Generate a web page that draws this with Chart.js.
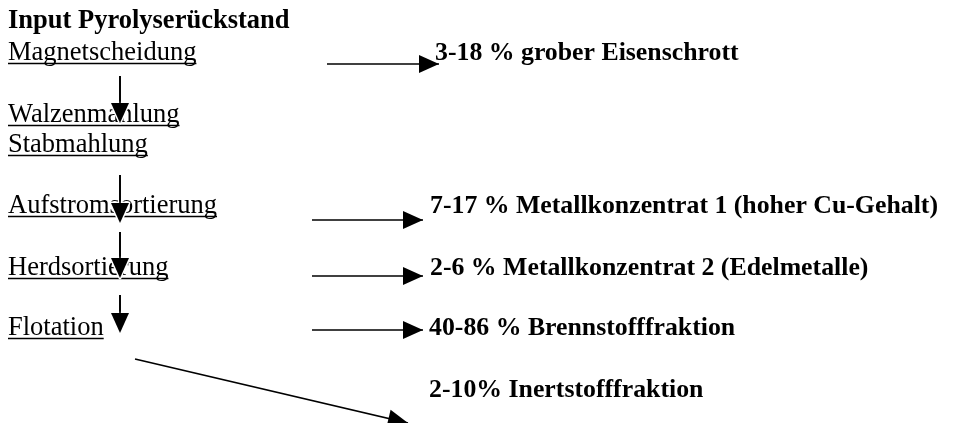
<!DOCTYPE html>
<html>
<head>
<meta charset="utf-8">
<script src="https://cdn.jsdelivr.net/npm/chart.js@4.4.1/dist/chart.umd.min.js"></script>
<style>
  body { margin: 0; background: #fff; }
  #flow { display: block; }
</style>
</head>
<body>
<canvas id="flow" width="956" height="423"></canvas>
<script>
// process steps on the left (underlined), with baseline position
let title = 'Input Pyrolyserückstand';
let titleX = 8;
let titleY = 28;
let stepLabels = ['Magnetscheidung', 'Walzenmahlung', 'Stabmahlung', 'Aufstromsortierung', 'Herdsortierung', 'Flotation'];
let stepX = [8, 8, 8, 8, 8, 8];
let stepY = [60, 122, 152, 213, 275, 335];

// output fractions on the right (bold)
let resultLabels = [
    '3-18 % grober Eisenschrott',
    '7-17 % Metallkonzentrat 1 (hoher Cu-Gehalt)',
    '2-6 % Metallkonzentrat 2 (Edelmetalle)',
    '40-86 % Brennstofffraktion',
    '2-10% Inertstofffraktion'
];
let resultX = [435, 430, 430, 429, 429];
let resultY = [60, 213, 275, 335, 397];

// arrows: start point -> tip
let arrowX0 = [120, 120, 120, 120, 327, 312, 312, 312, 135];
let arrowY0 = [76, 175, 232, 295, 64, 220, 276, 330, 359];
let arrowX1 = [120, 120, 120, 120, 439, 423, 423, 423, 408];
let arrowY1 = [123, 223, 278, 333, 64, 220, 276, 330, 423];

let datasets = [];
for (let i = 0; i < arrowX0.length; i++) {
    datasets.push({
        data: [{ x: arrowX0[i], y: arrowY0[i] }, { x: arrowX1[i], y: arrowY1[i] }],
        showLine: true,
        borderColor: '#000',
        borderWidth: 1.7,
        pointRadius: 0,
        pointHoverRadius: 0,
        clip: false
    });
}

const textPlugin = {
    id: 'textPlugin',
    beforeDatasetsDraw(chart) {
        let ctx = chart.ctx;
        let xs = chart.scales.x;
        let ys = chart.scales.y;
        ctx.save();
        ctx.fillStyle = '#000';
        ctx.strokeStyle = '#000';
        ctx.textBaseline = 'alphabetic';
        ctx.textAlign = 'left';

        ctx.font = 'bold 26.5px "Liberation Serif"';
        ctx.fillText(title, xs.getPixelForValue(titleX), ys.getPixelForValue(titleY));

        ctx.font = '26.5px "Liberation Serif"';
        ctx.lineWidth = 1.5;
        for (let i = 0; i < stepLabels.length; i++) {
            let px = xs.getPixelForValue(stepX[i]);
            let py = ys.getPixelForValue(stepY[i]);
            ctx.fillText(stepLabels[i], px, py);
            let w = ctx.measureText(stepLabels[i]).width;
            ctx.beginPath();
            ctx.moveTo(px, py + 3.5);
            ctx.lineTo(px + w, py + 3.5);
            ctx.stroke();
        }

        ctx.font = 'bold 25.8px "Liberation Serif"';
        for (let i = 0; i < resultLabels.length; i++) {
            ctx.fillText(resultLabels[i], xs.getPixelForValue(resultX[i]), ys.getPixelForValue(resultY[i]));
        }
        ctx.restore();
    },
    afterDatasetsDraw(chart) {
        let ctx = chart.ctx;
        ctx.save();
        ctx.lineJoin = 'round';
        for (let i = 0; i < chart.data.datasets.length; i++) {
            let pts = chart.getDatasetMeta(i).data;
            let a = pts[0], b = pts[1];
            let ang = Math.atan2(b.y - a.y, b.x - a.x);
            let len = 20, half = 9;
            let bx = b.x - len * Math.cos(ang);
            let by = b.y - len * Math.sin(ang);
            ctx.beginPath();
            ctx.moveTo(b.x, b.y);
            ctx.lineTo(bx - half * Math.sin(ang), by + half * Math.cos(ang));
            ctx.lineTo(bx + half * Math.sin(ang), by - half * Math.cos(ang));
            ctx.closePath();
            if (i < 4) {
                // white halo hides the text under the head, like in the original
                ctx.strokeStyle = '#fff';
                ctx.lineWidth = 3;
                ctx.stroke();
                ctx.beginPath();
                ctx.strokeStyle = '#000';
                ctx.lineWidth = 1.7;
                ctx.moveTo(a.x, a.y);
                ctx.lineTo(bx, by + 1);
                ctx.stroke();
                ctx.beginPath();
                ctx.moveTo(b.x, b.y);
                ctx.lineTo(bx - half * Math.sin(ang), by + half * Math.cos(ang));
                ctx.lineTo(bx + half * Math.sin(ang), by - half * Math.cos(ang));
                ctx.closePath();
            }
            ctx.fillStyle = '#000';
            ctx.fill();
        }
        ctx.restore();
    }
};

new Chart(document.getElementById('flow'), {
    type: 'scatter',
    data: { datasets: datasets },
    options: {
        responsive: false,
        animation: false,
        devicePixelRatio: 1,
        layout: { padding: 0 },
        plugins: { legend: { display: false }, tooltip: { enabled: false } },
        scales: {
            x: { type: 'linear', min: 0, max: 956, display: false },
            y: { type: 'linear', min: 0, max: 423, reverse: true, display: false }
        }
    },
    plugins: [textPlugin]
});
</script>
</body>
</html>
